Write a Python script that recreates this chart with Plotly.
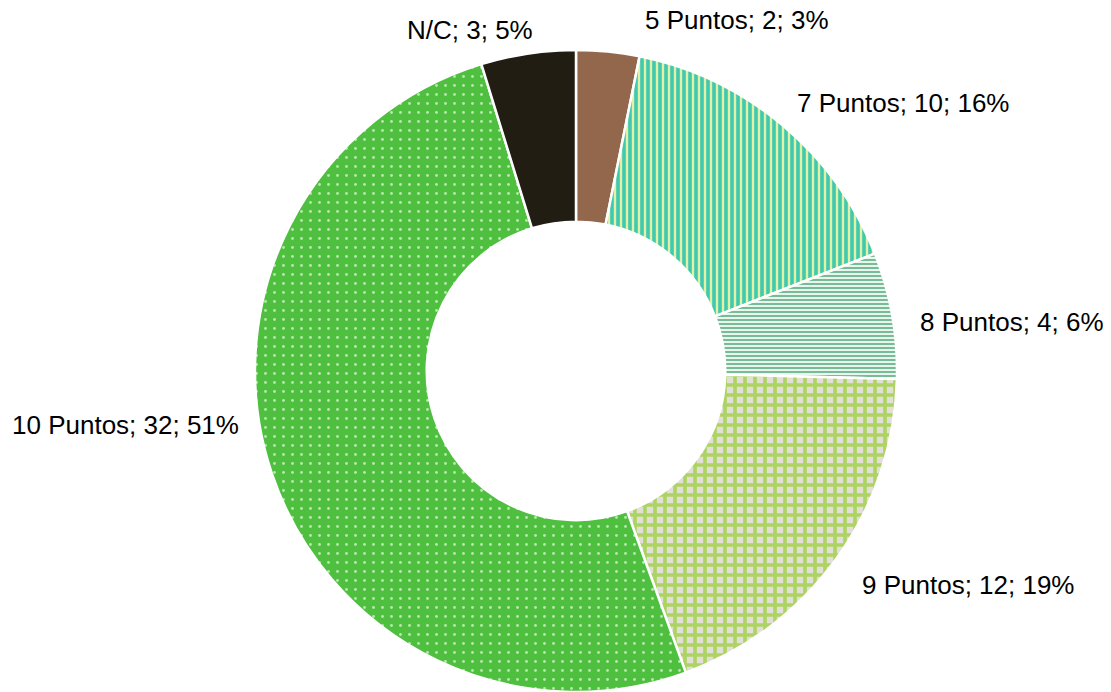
import plotly.graph_objects as go

labels = ["5 Puntos", "7 Puntos", "8 Puntos", "9 Puntos", "10 Puntos", "N/C"]
values = [2, 10, 4, 12, 32, 3]

colors = ["#93674b", "#3fcab0", "#78bb98", "#e2e0d6", "#4fbf3f", "#211d13"]
pattern_shapes = ["", "|", "-", "+", ".", ""]
pattern_fg = ["#93674b", "#e4f0a8", "#e8f6ec", "#add463", "#b8e8ad", "#211d13"]
pattern_size = [6, 6, 4, 10, 9, 6]
pattern_solidity = [0.3, 0.4, 0.5, 0.6, 0.08, 0.3]

# label placement (paper fractions, left edge / middle) for outside labels
label_pos_x = [0.5787, 0.7156, 0.8263, 0.7741, 0.0090, 0.3645]
label_pos_y = [0.971, 0.851, 0.535, 0.155, 0.386, 0.956]

total = sum(values)
fig = go.Figure(go.Pie(
    labels=labels,
    values=values,
    sort=False,
    direction="clockwise",
    rotation=0,
    hole=0.465,
    textinfo="none",
    hoverinfo="label+value+percent",
    marker=dict(
        colors=colors,
        line=dict(color="white", width=2.5),
        pattern=dict(shape=pattern_shapes, fgcolor=pattern_fg, bgcolor=colors,
                     size=pattern_size, solidity=pattern_solidity, fillmode="replace"),
    ),
    domain=dict(x=[0.2295, 0.8074], y=[0.0, 0.928]),
    showlegend=False,
))

for lab, val, px, py in zip(labels, values, label_pos_x, label_pos_y):
    pct = round(100 * val / total)
    fig.add_annotation(
        x=px, y=py, xref="paper", yref="paper",
        text=f"{lab}; {val}; {pct}%",
        showarrow=False, xanchor="left", yanchor="middle",
        font=dict(family="Liberation Sans, Arial", size=26, color="#000000"),
    )

fig.update_layout(
    width=1111, height=692,
    margin=dict(l=0, r=0, t=0, b=0),
    paper_bgcolor="white",
    plot_bgcolor="white",
)

fig.write_html("out.html", config={"displayModeBar": False},
               post_script="document.body.style.margin='0';")
